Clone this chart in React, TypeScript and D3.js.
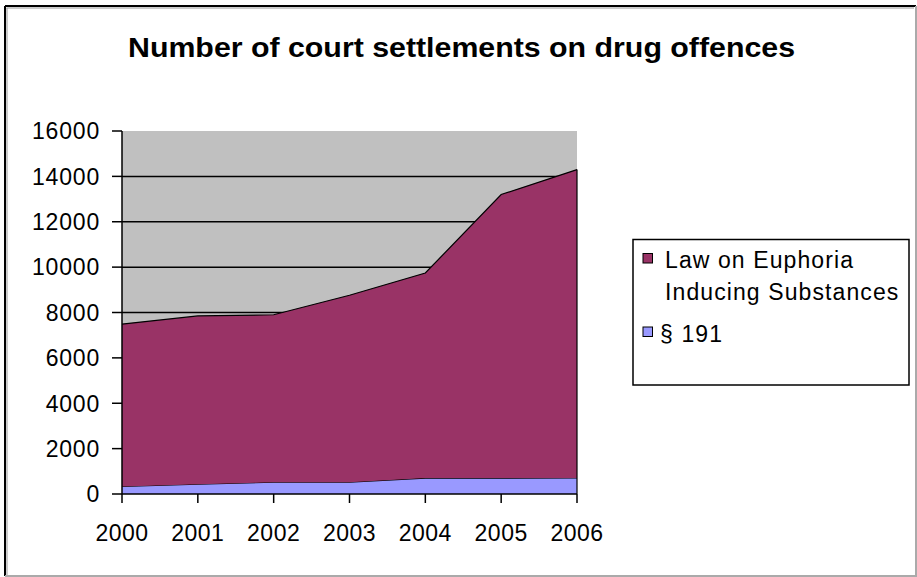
import React from "react";
import * as d3 from "d3";

const years = [2000, 2001, 2002, 2003, 2004, 2005, 2006];
const section191 = [330, 430, 520, 520, 700, 700, 710];
const lawEuphoria = [7160, 7420, 7380, 8240, 9040, 12500, 13590];
const yTicks = [0, 2000, 4000, 6000, 8000, 10000, 12000, 14000, 16000];
const legendLines = ["Law on Euphoria", "Inducing Substances"];
const seriesNames = ["Law on Euphoria Inducing Substances", "§ 191"];
const title = "Number of court settlements on drug offences";

const W = 917;
const H = 577;
const plot = { left: 122, right: 577, top: 131, bottom: 494 };
const font = "'Liberation Sans', Arial, sans-serif";

export default function App() {
  const x = d3.scaleLinear().domain([2000, 2006]).range([plot.left, plot.right]);
  const y = d3.scaleLinear().domain([0, 16000]).range([plot.bottom, plot.top]);

  const rows = years.map((yr, i) => ({ year: yr, s191: section191[i], law: lawEuphoria[i] }));
  const stack = d3.stack<any>().keys(["s191", "law"]);
  const layers = stack(rows);
  const area = d3
    .area<any>()
    .x((d) => x(d.data.year))
    .y0((d) => y(d[0]))
    .y1((d) => y(d[1]));
  const topLine = d3
    .line<any>()
    .x((d) => x(d.data.year))
    .y((d) => y(d[1]));
  const colors: Record<string, string> = { s191: "#9999FF", law: "#993366" };

  return (
    <svg
      width={W}
      height={H}
      style={{ position: "absolute", left: 0, top: 0, background: "#fff" }}
      fontFamily={font}
    >
      {/* outer frame */}
      <rect x={0} y={0} width={W} height={H} fill="#fff" />
      <line x1={5} y1={6} x2={916} y2={6} stroke="#000" strokeWidth={2} />
      <line x1={5} y1={6} x2={5} y2={576} stroke="#000" strokeWidth={2} />
      <line x1={6.5} y1={8} x2={914} y2={8} stroke="#999" strokeWidth={1} />
      <line x1={7} y1={8} x2={7} y2={575} stroke="#999" strokeWidth={1} />
      <line x1={916} y1={6} x2={916} y2={577} stroke="#aaa" strokeWidth={2} />
      <line x1={5} y1={576} x2={917} y2={576} stroke="#aaa" strokeWidth={2} />

      <text x={461.5} y={57} textAnchor="middle" fontWeight="bold" fontSize={28} textLength={667} lengthAdjust="spacingAndGlyphs">
        {title}
      </text>

      {/* plot background */}
      <rect x={plot.left} y={plot.top} width={plot.right - plot.left} height={plot.bottom - plot.top} fill="#C0C0C0" />
      {yTicks.filter((t) => t > 0 && t < 16000).map((t) => (
        <line key={t} x1={plot.left} x2={plot.right} y1={y(t)} y2={y(t)} stroke="#000" strokeWidth={1.5} />
      ))}

      {layers.map((layer) => (
        <g key={layer.key}>
          <path d={area(layer) || ""} fill={colors[layer.key]} />
          <path d={topLine(layer) || ""} fill="none" stroke="#000" strokeWidth={1.2} />
        </g>
      ))}
      <line x1={plot.right} x2={plot.right} y1={y(section191[6] + lawEuphoria[6])} y2={plot.bottom} stroke="#000" strokeWidth={1.2} />

      {/* axes */}
      <line x1={plot.left} x2={plot.left} y1={plot.top} y2={plot.bottom} stroke="#000" strokeWidth={1.5} />
      <line x1={plot.left} x2={plot.right} y1={plot.bottom} y2={plot.bottom} stroke="#000" strokeWidth={1.5} />
      {yTicks.map((t) => (
        <g key={t}>
          <line x1={plot.left - 10} x2={plot.left} y1={y(t)} y2={y(t)} stroke="#000" strokeWidth={1.5} />
          <text x={100} y={y(t)} dy="0.36em" textAnchor="end" fontSize={23} letterSpacing={0.8}>
            {t}
          </text>
        </g>
      ))}
      {years.map((yr) => (
        <g key={yr}>
          <line x1={x(yr)} x2={x(yr)} y1={plot.bottom} y2={plot.bottom + 9} stroke="#000" strokeWidth={1.5} />
          <text x={x(yr)} y={541} textAnchor="middle" fontSize={23} letterSpacing={0.5}>
            {yr}
          </text>
        </g>
      ))}

      {/* legend */}
      <rect x={633} y={239.5} width={276} height={145.5} fill="#fff" stroke="#000" strokeWidth={1.5} />
      <rect x={643} y={253.5} width={9.5} height={9.5} fill={colors.law} stroke="#000" strokeWidth={1} />
      <text x={665} y={268} fontSize={23} letterSpacing={1.1}>{legendLines[0]}</text>
      <text x={665} y={300} fontSize={23} letterSpacing={1.1}>{legendLines[1]}</text>
      <rect x={643} y={327} width={9.5} height={9.5} fill={colors.s191} stroke="#000" strokeWidth={1} />
      <text x={660} y={342} fontSize={23} letterSpacing={1.1}>{seriesNames[1]}</text>
    </svg>
  );
}
